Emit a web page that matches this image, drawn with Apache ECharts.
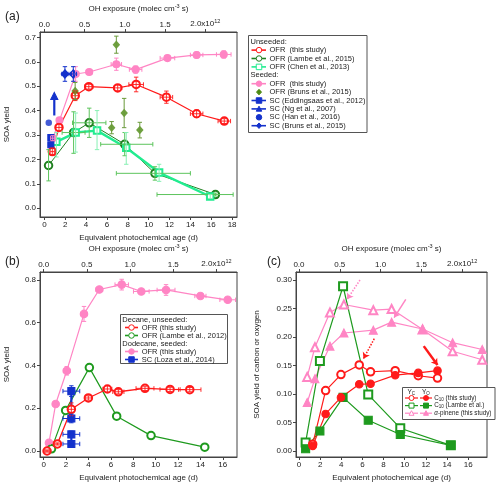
<!DOCTYPE html>
<html><head><meta charset="utf-8">
<script src="https://cdn.jsdelivr.net/npm/echarts@6/dist/echarts.min.js"></script>
<style>html,body{margin:0;padding:0;background:#fff}#c{width:500px;height:487px}</style>
</head><body><div id="c"></div>
<script>
// ---------- tick labels ----------
const ageTicksA = [0,2,4,6,8,10,12,14,16,18];
const ageTicksBC = [0,2,4,6,8,10,12,14,16];
const ohTicks = [0,0.5,1.0,1.5,2.0];
const yTicksA = [0,0.1,0.2,0.3,0.4,0.5,0.6,0.7];
const yTicksB = [0,0.2,0.4,0.6,0.8];
const yTicksC = [0,0.05,0.10,0.15,0.20,0.25,0.30];

// ---------- panel (a): alpha-pinene ----------
const aRedX = [0.76,1.40,2.96,4.26,7.03,8.80,11.70,14.60,17.25];
const aRedY = [0.232,0.331,0.461,0.498,0.493,0.507,0.455,0.387,0.357];
const aRedXErr = [0.2,0.3,0.3,0.4,0.4,0.7,0.6,0.6,0.6];
const aRedYErr = [0.015,0.015,0.02,0.01,0.012,0.03,0.025,0.015,0.01];

const aPinkX = [0.80,1.45,3.0,4.3,6.9,8.75,11.8,14.6,17.2];
const aPinkY = [0.287,0.360,0.550,0.558,0.590,0.568,0.615,0.628,0.630];
const aPinkXErr = [0.2,0.2,0.3,0.3,0.5,0.6,0.7,0.6,0.7];
const aPinkYErr = [0.01,0.01,0.03,0.01,0.025,0.015,0.01,0.012,0.015];

const aLamX = [0.4,2.8,4.3,7.7,10.6,16.4];
const aLamY = [0.175,0.310,0.350,0.262,0.143,0.056];
const aLamXLo = [0.4,1.7,2.7,5.4,6.9,10.8];
const aLamXHi = [0.4,3.9,5.9,10.4,14.0,18.1];
const aLamYLo = [0.112,0.225,0.290,0.215,0.115,0.050];
const aLamYHi = [0.240,0.395,0.410,0.310,0.170,0.062];

const aChenX = [1.15,3.0,5.05,7.85,11.0,15.9];
const aChenY = [0.272,0.310,0.318,0.248,0.146,0.048];
const aChenYLo = [0.21,0.23,0.24,0.18,0.11,0.040];
const aChenYHi = [0.31,0.39,0.40,0.31,0.18,0.056];

const aBrunsOfrX = [2.95,6.9,6.45,7.65,9.15];
const aBrunsOfrY = [0.48,0.67,0.33,0.39,0.32];
const aBrunsOfrYErr = [0.035,0.035,0.025,0.06,0.032];

const aEddX = [0.62,0.62];
const aEddY = [0.29,0.26];
const aNgX = [0.95,0.95];
const aNgY = [0.38,0.46];
const aHanX = [0.42];
const aHanY = [0.35];
const aBrunsScX = [1.97,2.77];
const aBrunsScY = [0.55,0.55];
const aBrunsScXErr = [0.3,0.3];
const aBrunsScYErr = [0.03,0.03];

// ---------- panel (b): decane / dodecane ----------
const bPinkX = [0.47,1.07,2.06,3.6,4.97,6.97,8.72,10.93,14.0,16.44];
const bPinkY = [0.038,0.22,0.375,0.641,0.755,0.778,0.746,0.753,0.725,0.707];
const bPinkXErr = [0.1,0.2,0.3,0.3,0.3,0.6,0.7,0.8,0.5,0.7];
const bPinkYErr = [0.005,0.01,0.02,0.035,0.01,0.025,0.01,0.025,0.01,0.01];

const bRedX = [0.3,1.22,2.47,3.99,5.69,6.67,9.05,11.29,13.05];
const bRedY = [0.0,0.033,0.195,0.248,0.29,0.277,0.293,0.288,0.287];
const bRedXErr = [0.2,0.3,0.3,0.3,0.4,0.5,0.8,0.9,1.0];
const bRedYErr = [0.005,0.005,0.03,0.01,0.015,0.01,0.01,0.01,0.01];

const bLamX = [0.7,1.96,4.08,6.52,9.59,14.39];
const bLamY = [0.01,0.19,0.39,0.163,0.072,0.018];

const bLozaX = [2.47,2.47,2.47,2.47];
const bLozaY = [0.28,0.152,0.078,0.033];
const bLozaXErr = [0.75,0.75,0.75,0.75];
const bLozaYErr = [0.025,0.02,0.015,0.005];

// ---------- panel (c): carbon / oxygen yields ----------
const cRedX = [1.3,2.52,3.97,5.7,6.77,9.1,11.28,13.1];
const cRedYc = [0.012,0.106,0.134,0.151,0.139,0.141,0.132,0.128];
const cRedYo = [0.009,0.065,0.094,0.117,0.118,0.133,0.137,0.141];
const cLamX = [0.63,1.98,4.17,6.55,9.58,14.36];
const cLamYc = [0.015,0.158,0.289,0.099,0.040,0.010];
const cLamYo = [0.004,0.035,0.094,0.054,0.029,0.010];
const cPinkX = [0.78,1.51,2.93,4.25,7.03,8.76,11.69,14.53,17.33];
const cPinkYc = [0.130,0.182,0.243,0.257,0.247,0.249,0.213,0.175,0.160];
const cPinkYo = [0.085,0.127,0.184,0.207,0.212,0.226,0.214,0.190,0.178];
// annotation arrows [x1,y1,x2,y2]
const cArrowPinkDot = [5.77,0.300,4.55,0.266];
const cArrowPinkSolid = [10.1,0.266,9.0,0.234];
const cArrowRedDot = [7.12,0.197,6.1,0.162];
const cArrowRedSolid = [11.8,0.184,13.1,0.151];

// ---------- styling ----------
const FONT = '"Liberation Sans", Arial, sans-serif';
const TXT = '#222';
const AX = '#444';
const RED = '#ff1a1a', PINK = '#ff85c4', DKGREEN = '#1f7f1f', LTGREEN_ERR = '#5cc45c',
      CHEN = '#22ec90', CHEN_ERR = '#88f0b4', OLIVE = '#4b8a10', BLUE = '#1432cc', GREEN = '#1e9a1e';
const OH_PER_DAY = 0.1296; // 1e12 molec cm-3 s per day (OH = 1.5e6 cm-3)

const grids = [
  {left:40, top:32, width:197, height:185},
  {left:40, top:272, width:197, height:185},
  {left:296, top:272, width:191, height:185}
];
const xRanges = [[-0.42,18.47],[-0.33,17.27],[-0.28,17.78]];
const yRanges = [[-0.036,0.722],[-0.028,0.837],[-0.0105,0.314]];

const rich = {
  s:{fontSize:5.5, fontFamily:FONT, color:TXT, verticalAlign:'top', padding:[0,0,5,0]},
};
function xAxes(gi, ticks) {
  const [mn, mx] = xRanges[gi];
  const common = {type:'value', gridIndex:gi, splitLine:{show:false},
    axisLine:{show:true, onZero:false, lineStyle:{color:AX, width:1}}};
  return [
    Object.assign({}, common, {position:'bottom', min:mn, max:mx,
      axisTick:{show:true, length:3, customValues:ticks, lineStyle:{color:AX}},
      axisLabel:{customValues:ticks, fontSize:8, fontFamily:FONT, color:TXT, margin:4,
        formatter:v=>String(Math.round(v))},
      name:'Equivalent photochemical age (d)', nameLocation:'middle', nameGap:17,
      nameTextStyle:{fontSize:8, fontFamily:FONT, color:TXT}}),
    Object.assign({}, common, {position:'top', min:mn*OH_PER_DAY, max:mx*OH_PER_DAY,
      axisTick:{show:true, length:3, customValues:ohTicks, lineStyle:{color:AX}},
      axisLabel:{customValues:ohTicks, fontSize:8, fontFamily:FONT, color:TXT, margin:3, rich,
        formatter:v=> Math.abs(v-2)<1e-9 ? '2.0x10{s|12}' : v.toFixed(1)},
      name:'OH exposure (molec cm{s|-3} s)', nameLocation:'middle', nameGap:18,
      nameTextStyle:{fontSize:8, fontFamily:FONT, color:TXT, rich}})
  ];
}
function yAxis(gi, ticks, dec, name, gap) {
  const [mn, mx] = yRanges[gi];
  return {type:'value', gridIndex:gi, min:mn, max:mx, splitLine:{show:false},
    axisLine:{show:true, onZero:false, lineStyle:{color:AX, width:1}},
    axisTick:{show:true, length:3, customValues:ticks, lineStyle:{color:AX}},
    axisLabel:{customValues:ticks, fontSize:8, fontFamily:FONT, color:TXT, margin:4,
      formatter:v=>v.toFixed(dec)},
    name, nameLocation:'middle', nameGap:gap, nameRotate:90,
    nameTextStyle:{fontSize:8, fontFamily:FONT, color:TXT}};
}

function pairs(xs, ys){ return xs.map((x,i)=>[x, ys[i]]); }

function lineS(gi, xs, ys, color, symbol, size, lw, extra) {
  return Object.assign({type:'line', xAxisIndex:gi*2, yAxisIndex:gi, data:pairs(xs,ys),
    animation:false, silent:true, z:3, symbol, symbolSize:size, showSymbol:true,
    lineStyle:{color, width:lw},
    itemStyle:{color, borderColor:color, borderWidth:1.1}}, extra||{});
}
function scatterS(gi, xs, ys, color, symbol, size) {
  return {type:'scatter', xAxisIndex:gi*2, yAxisIndex:gi, data:pairs(xs,ys), animation:false,
    silent:true, z:3, symbol, symbolSize:size, itemStyle:{color}};
}
// error bars: rows [x, y, xlo, xhi, ylo, yhi]
function errS(gi, rows, color, lw) {
  return {type:'custom', xAxisIndex:gi*2, yAxisIndex:gi, data:rows, animation:false, silent:true, z:4,
    encode:{x:[0], y:[1]}, clip:false,
    renderItem(params, api){
      const x=api.value(0), y=api.value(1);
      const xl=api.value(2), xh=api.value(3), yl=api.value(4), yh=api.value(5);
      const ch=[]; const cap=2.2; const st={stroke:color, lineWidth:lw};
      const pl=api.coord([xl,y]), ph=api.coord([xh,y]);
      if (ph[0]-pl[0] > 1) {
        ch.push({type:'line', shape:{x1:pl[0],y1:pl[1],x2:ph[0],y2:ph[1]}, style:st});
        ch.push({type:'line', shape:{x1:pl[0],y1:pl[1]-cap,x2:pl[0],y2:pl[1]+cap}, style:st});
        ch.push({type:'line', shape:{x1:ph[0],y1:ph[1]-cap,x2:ph[0],y2:ph[1]+cap}, style:st});
      }
      const ql=api.coord([x,yl]), qh=api.coord([x,yh]);
      if (ql[1]-qh[1] > 1) {
        ch.push({type:'line', shape:{x1:ql[0],y1:ql[1],x2:qh[0],y2:qh[1]}, style:st});
        ch.push({type:'line', shape:{x1:ql[0]-cap,y1:ql[1],x2:ql[0]+cap,y2:ql[1]}, style:st});
        ch.push({type:'line', shape:{x1:qh[0]-cap,y1:qh[1],x2:qh[0]+cap,y2:qh[1]}, style:st});
      }
      return {type:'group', children:ch};
    }};
}
function symRows(xs, ys, xe, ye){ return xs.map((x,i)=>[x, ys[i], x-(xe?xe[i]:0), x+(xe?xe[i]:0), ys[i]-(ye?ye[i]:0), ys[i]+(ye?ye[i]:0)]); }
function loHiRows(xs, ys, xlo, xhi, ylo, yhi){ return xs.map((x,i)=>[x, ys[i], xlo?xlo[i]:x, xhi?xhi[i]:x, ylo?ylo[i]:ys[i], yhi?yhi[i]:ys[i]]); }

function arrowLine(a, color, type, width) {
  return [{coord:[a[0],a[1]], lineStyle:{color, type, width}}, {coord:[a[2],a[3]]}];
}

const series = [
  // ---- (a) ----
  errS(0, loHiRows(aLamX, aLamY, aLamXLo, aLamXHi, aLamYLo, aLamYHi), LTGREEN_ERR, 1),
  errS(0, loHiRows(aChenX, aChenY, null, null, aChenYLo, aChenYHi), CHEN_ERR, 1),
  lineS(0, aLamX, aLamY, DKGREEN, 'emptyCircle', 7.5, 1),
  lineS(0, aChenX, aChenY, CHEN, 'emptyRect', 6.5, 2.4),
  lineS(0, aPinkX, aPinkY, PINK, 'circle', 7, 1.2),
  errS(0, symRows(aPinkX, aPinkY, aPinkXErr, aPinkYErr), PINK, 1),
  lineS(0, aRedX, aRedY, RED, 'emptyCircle', 7.5, 1.2),
  errS(0, symRows(aRedX, aRedY, aRedXErr, aRedYErr), RED, 0.9),
  errS(0, symRows(aBrunsOfrX, aBrunsOfrY, null, aBrunsOfrYErr), '#6a9a3a', 1),
  scatterS(0, aBrunsOfrX, aBrunsOfrY, OLIVE, 'diamond', [7.5,8.5]),
  lineS(0, aEddX, aEddY, BLUE, 'rect', 6, 2),
  lineS(0, aNgX, aNgY, BLUE, 'triangle', 7, 2.2, {data: aNgX.map((x,i)=> i===0 ? {value:[x,aNgY[i]], symbol:'none'} : [x,aNgY[i]])}),
  scatterS(0, aHanX, aHanY, BLUE, 'circle', 6.5),
  errS(0, symRows(aBrunsScX, aBrunsScY, aBrunsScXErr, aBrunsScYErr), BLUE, 1),
  lineS(0, aBrunsScX, aBrunsScY, BLUE, 'diamond', [7.5,8.5], 1.5),
  // ---- (b) ----
  lineS(1, bPinkX, bPinkY, PINK, 'circle', 7.5, 1.2),
  errS(1, symRows(bPinkX, bPinkY, bPinkXErr, bPinkYErr), PINK, 1),
  lineS(1, bLamX, bLamY, GREEN, 'emptyCircle', 7.5, 1.2),
  lineS(1, bRedX, bRedY, RED, 'emptyCircle', 7.5, 1.3),
  errS(1, symRows(bRedX, bRedY, bRedXErr, bRedYErr), RED, 0.9),
  errS(1, symRows(bLozaX, bLozaY, bLozaXErr, bLozaYErr), BLUE, 1),
  lineS(1, bLozaX.slice(0,2), bLozaY.slice(0,2), BLUE, 'rect', 7, 2.2),
  lineS(1, bLozaX.slice(2,4), bLozaY.slice(2,4), BLUE, 'rect', 7, 2.2),
  // ---- (c) ----
  lineS(2, cPinkX, cPinkYc, PINK, 'emptyTriangle', 8, 1.2, {markLine:{silent:true, animation:false,
    symbol:['none','arrow'], symbolSize:6, label:{show:false},
    data:[arrowLine(cArrowPinkDot, PINK, 'dotted', 1.5), arrowLine(cArrowPinkSolid, PINK, 'solid', 1.5)]}}),
  lineS(2, cPinkX, cPinkYo, PINK, 'triangle', 8, 1.2),
  lineS(2, cLamX, cLamYc, GREEN, 'emptyRect', 8, 1.2),
  lineS(2, cLamX, cLamYo, GREEN, 'rect', 8, 1.2),
  lineS(2, cRedX, cRedYc, RED, 'emptyCircle', 7.5, 1.2, {markLine:{silent:true, animation:false,
    symbol:['none','arrow'], symbolSize:6, label:{show:false},
    data:[arrowLine(cArrowRedDot, RED, 'dotted', 1.5), arrowLine(cArrowRedSolid, RED, 'solid', 2.5)]}}),
  lineS(2, cRedX, cRedYo, RED, 'circle', 7.5, 1.2)
];

// ---------- legends (graphic) ----------
function sym(type, cx, cy, s, color, filled) {
  const style = {fill: filled ? color : '#fff', stroke: color, lineWidth: 1};
  if (type==='circle') return {type:'circle', shape:{cx, cy, r:s/2}, style};
  if (type==='rect') return {type:'rect', shape:{x:cx-s/2, y:cy-s/2, width:s, height:s}, style};
  if (type==='triangle') return {type:'polygon', shape:{points:[[cx,cy-s/2],[cx+s/2,cy+s/2.4],[cx-s/2,cy+s/2.4]]}, style};
  return {type:'polygon', shape:{points:[[cx,cy-s/2],[cx+s/2.2,cy],[cx,cy+s/2],[cx-s/2.2,cy]]}, style};
}
function txt(x, y, text, size, extra) {
  return {type:'text', x, y, silent:true, style:Object.assign({text, fill:TXT,
    font: size+'px '+FONT, fontSize:size, fontFamily:FONT,
    align:'left', verticalAlign:'middle', textAlign:'left', textVerticalAlign:'middle'}, extra||{})};
}
function iconLine(x1, x2, y, color, w) {
  return {type:'line', silent:true, shape:{x1, y1:y, x2, y2:y}, style:{stroke:color, lineWidth:w}};
}
const g = [];
// panel labels
g.push(txt(5, 17, '(a)', 12), txt(5, 262, '(b)', 12), txt(267, 262, '(c)', 12));

// legend (a)
g.push({type:'rect', shape:{x:248.5, y:35.5, width:118.5, height:97}, style:{fill:'#fff', stroke:'#555', lineWidth:1}, z:10});
const la = [
  ['h','Unseeded:'],
  ['e','OFR  (this study)', RED, 'circle', false, true],
  ['e','OFR (Lambe et al., 2015)', DKGREEN, 'circle', false, true],
  ['e','OFR (Chen et al., 2013)', CHEN, 'rect', false, true],
  ['h','Seeded:'],
  ['e','OFR  (this study)', PINK, 'circle', true, true],
  ['e','OFR (Bruns et al., 2015)', OLIVE, 'diamond', true, false],
  ['e','SC (Eddingsaas et al., 2012)', BLUE, 'rect', true, true],
  ['e','SC (Ng et al., 2007)', BLUE, 'triangle', true, true],
  ['e','SC (Han et al., 2016)', BLUE, 'circle', true, false],
  ['e','SC (Bruns et al., 2015)', BLUE, 'diamond', true, true]
];
la.forEach((r,i)=>{
  const y = 41.7 + i*8.4;
  if (r[0]==='h') { g.push(Object.assign(txt(250.5, y, r[1], 7.5), {z:11})); return; }
  if (r[5]) g.push(Object.assign(iconLine(251.5, 266, y, r[2], 1.6), {z:11}));
  g.push(Object.assign(sym(r[3], 259, y, 5.5, r[2], r[4]), {z:11}));
  g.push(Object.assign(txt(269.5, y, r[1], 7.5), {z:11}));
});

// legend (b)
g.push({type:'rect', shape:{x:120.5, y:314.5, width:107, height:49}, style:{fill:'#fff', stroke:'#555', lineWidth:1}, z:10});
const lb = [
  ['h','Decane, unseeded:'],
  ['e','OFR (this study)', RED, 'circle', false],
  ['e','OFR (Lambe et al., 2012)', GREEN, 'circle', false],
  ['h','Dodecane, seeded:'],
  ['e','OFR (this study)', PINK, 'circle', true],
  ['e','SC (Loza et al., 2014)', BLUE, 'rect', true]
];
lb.forEach((r,i)=>{
  const y = 319.5 + i*8;
  if (r[0]==='h') { g.push(Object.assign(txt(122.3, y, r[1], 7.5), {z:11})); return; }
  g.push(Object.assign(iconLine(125, 138, y, r[2], 1.6), {z:11}));
  g.push(Object.assign(sym(r[3], 131.5, y, 5.5, r[2], r[4]), {z:11}));
  g.push(Object.assign(txt(141.7, y, r[1], 7.5), {z:11}));
});

// legend (c)
g.push({type:'rect', shape:{x:402.5, y:387.5, width:92.5, height:32}, style:{fill:'#fff', stroke:'#555', lineWidth:1}, z:10});
const subRich = {b:{fontSize:4.5, fontFamily:FONT, fill:TXT, color:TXT, verticalAlign:'bottom', padding:[3,0,0,0]},
                 i:{fontSize:6.3, fontFamily:FONT, fill:TXT, color:TXT, fontStyle:'italic'}};
g.push(Object.assign(txt(407.5, 392, 'Y{b|C}', 6.5, {rich:subRich}), {z:11}));
g.push(Object.assign(txt(422, 392, 'Y{b|O}', 6.5, {rich:subRich}), {z:11}));
const lc = [
  ['C{b|10} (this study)', RED, 'circle'],
  ['C{b|10} (Lambe et al.)', GREEN, 'rect'],
  ['{i|α}-pinene (this study)', PINK, 'triangle']
];
lc.forEach((r,i)=>{
  const y = 398 + i*7.6;
  g.push(Object.assign(iconLine(405, 418, y, r[1], 1.2), {z:11}));
  g.push(Object.assign(sym(r[2], 411.5, y, 5, r[1], false), {z:11}));
  g.push(Object.assign(iconLine(420, 432, y, r[1], 1.2), {z:11}));
  g.push(Object.assign(sym(r[2], 426, y, 5, r[1], true), {z:11}));
  g.push(Object.assign(txt(434.3, y, r[0], 6.3, {rich:subRich}), {z:11}));
});

const xAxis = [].concat(xAxes(0, ageTicksA), xAxes(1, ageTicksBC), xAxes(2, ageTicksBC));
const yAxisArr = [
  yAxis(0, yTicksA, 1, 'SOA yield', 29),
  yAxis(1, yTicksB, 1, 'SOA yield', 29),
  yAxis(2, yTicksC, 2, 'SOA yield of carbon or oxygen', 35)
];

const chart = echarts.init(document.getElementById('c'), null, {renderer:'canvas'});
chart.setOption({
  animation:false,
  backgroundColor:'#fff',
  textStyle:{fontFamily:FONT},
  grid: grids.map(gr=>Object.assign({show:true, borderColor:AX, borderWidth:1, backgroundColor:'transparent', containLabel:false}, gr)),
  xAxis, yAxis: yAxisArr,
  series,
  graphic: {elements: g}
});
</script></body></html>
